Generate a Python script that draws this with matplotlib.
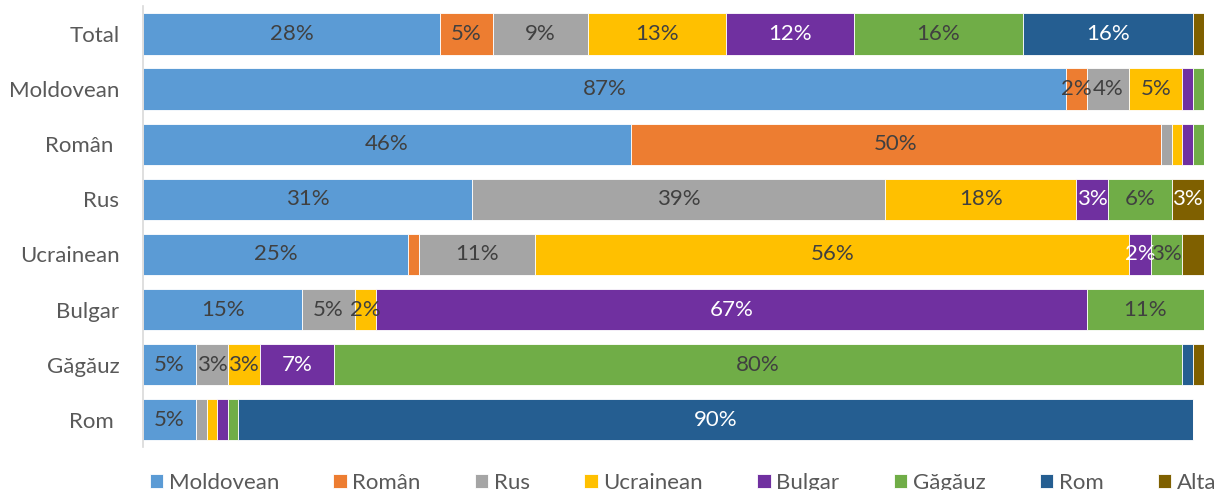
import matplotlib
matplotlib.use("Agg")
import matplotlib.pyplot as plt
import numpy as np

categories = ["Total", "Moldovean", "Român ", "Rus", "Ucrainean", "Bulgar", "Găgăuz", "Rom "]
series_names = ["Moldovean", "Român", "Rus", "Ucrainean", "Bulgar", "Găgăuz", "Rom", "Alta"]

moldovean = [28, 87, 46, 31, 25, 15, 5, 5]
roman     = [5, 2, 50, 0, 1, 0, 0, 0]
rus       = [9, 4, 1, 39, 11, 5, 3, 1]
ucrainean = [13, 5, 1, 18, 56, 2, 3, 1]
bulgar    = [12, 1, 1, 3, 2, 67, 7, 1]
gagauz    = [16, 1, 1, 6, 3, 11, 80, 1]
rom       = [16, 0, 0, 0, 0, 0, 1, 90]
alta      = [1, 0, 0, 3, 2, 0, 1, 0]

colors = ["#5B9BD5", "#ED7D31", "#A5A5A5", "#FFC000", "#7030A0", "#70AD47", "#255E91", "#7F6000"]
label_colors = ["#404040", "#404040", "#404040", "#404040", "white", "#404040", "white", "white"]
# labels hidden manually in the original
hidden = {(4, 7)}

data = [moldovean, roman, rus, ucrainean, bulgar, gagauz, rom, alta]

plt.rcParams['font.family'] = ['Lato', 'DejaVu Sans']
FS = 16

fig = plt.figure(figsize=(12.22, 4.9), dpi=100)
ax = fig.add_axes([0.117, 0.087, 0.868, 0.9])

y = np.arange(len(categories))
left = np.zeros(len(categories))
for si, (name, vals) in enumerate(zip(series_names, data)):
    vals = np.array(vals, dtype=float)
    ax.barh(y, vals, left=left, height=0.75, color=colors[si], label=name,
            edgecolor="white", linewidth=0.6)
    for ci, v in enumerate(vals):
        if v >= 2 and (ci, si) not in hidden:
            ax.text(left[ci] + v / 2, y[ci], f"{int(v)}%", ha="center", va="center",
                    fontsize=FS, color=label_colors[si])
    left += vals

ax.set_xlim(0, 100)
ax.set_ylim(len(categories) - 0.5, -0.5)
ax.set_yticks(y)
ax.set_yticklabels(categories, fontsize=FS, color="#595959")
ax.tick_params(axis="y", length=0, pad=17)
ax.set_xticks([])
for s in ["top", "right", "bottom"]:
    ax.spines[s].set_visible(False)
ax.spines["left"].set_color("#D9D9D9")
ax.spines["left"].set_linewidth(1.2)

leg = fig.legend(loc="center", bbox_to_anchor=(0.559, 0.015), ncol=8, frameon=False,
                 fontsize=FS, handlelength=0.6, handleheight=0.6, handletextpad=0.25,
                 columnspacing=2.45)
for t in leg.get_texts():
    t.set_color("#595959")

fig.savefig("out.png", dpi=100)
